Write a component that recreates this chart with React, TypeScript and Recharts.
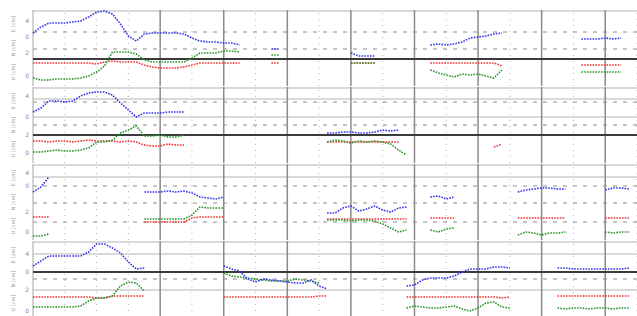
import React from "react";
import { LineChart, Line, XAxis, YAxis, ReferenceLine } from "recharts";

const _ = null;

// sample times in hours since start (3 h spacing)
const hours = [
  0, 3, 6, 9, 12, 15, 18, 21, 24, 27,
  30, 33, 36, 39, 42, 45, 48, 51, 54, 57,
  60, 63, 66, 69, 72, 75, 78, 81, 84, 87,
  90, 93, 96, 99, 102, 105, 108, 111, 114, 117,
  120, 123, 126, 129, 132, 135, 138, 141, 144, 147,
  150, 153, 156, 159, 162, 165, 168, 171, 174, 177,
  180, 183, 186, 189, 192, 195, 198, 201, 204, 207,
  210, 213, 216, 219, 222, 225,
];

// panel 1
const p1Blue = [
  53, 59, 63, 63, 63, 64, 65, 69, 74, 75,
  72, 62, 50, 45, 52, 53, 53, 53, 53, 52,
  48, 45, 44, 44, 43, 43, 41, _, _, _,
  37, 37, _, _, _, _, _, _, _, _,
  33, 30, 30, 30, _, _, _, _, _, _,
  41, 42, 41, 42, 44, 48, 49, 50, 52, 53,
  _, _, _, _, _, _, _, _, _, 47,
  47, 47, 48, 47, 48, _,
];
const p1Green = [
  8, 6, 6, 7, 7, 7, 8, 10, 14, 20,
  34, 34, 34, 32, 26, 24, 24, 24, 24, 24,
  28, 33, 33, 33, 35, 35, 34, _, _, _,
  31, 31, _, _, _, _, _, _, _, _,
  23, 23, 23, 23, _, _, _, _, _, _,
  16, 13, 11, 9, 12, 11, 12, 10, 8, 16,
  _, _, _, _, _, _, _, _, _, 14,
  14, 14, 14, 14, 14, _,
];
const p1Red = [
  23, 23, 23, 23, 23, 23, 23, 23, 22, 24,
  25, 24, 24, 24, 21, 19, 18, 18, 18, 19,
  21, 23, 23, 23, 23, 23, 23, _, _, _,
  23, 23, _, _, _, _, _, _, _, _,
  23, 23, 23, 23, _, _, _, _, _, _,
  23, 23, 23, 23, 23, 23, 23, 23, 23, 20,
  _, _, _, _, _, _, _, _, _, 21,
  21, 21, 21, 21, 21, _,
];

// panel 2
const p2Blue = [
  51, 55, 62, 62, 61, 62, 67, 70, 71, 71,
  68, 60, 53, 46, 50, 50, 50, 51, 51, 51,
  _, _, _, _, _, _, _, _, _, _,
  _, _, _, _, _, _, _, 30, 30, 31,
  31, 30, 30, 31, 33, 32, 33, _, _, _,
  _, _, _, _, _, _, _, _, _, _,
  _, _, _, _, _, _, _, _, _, _,
  _, _, _, _, _, _,
];
const p2Green = [
  11, 11, 12, 13, 12, 12, 13, 15, 21, 21,
  23, 30, 33, 37, 27, 27, 28, 26, 26, 28,
  _, _, _, _, _, _, _, _, _, _,
  _, _, _, _, _, _, _, 21, 23, 22,
  20, 22, 21, 22, 21, 19, 13, 8, _, _,
  _, _, _, _, _, _, _, _, _, _,
  _, _, _, _, _, _, _, _, _, _,
  _, _, _, _, _, _,
];
const p2Red = [
  22, 22, 21, 22, 22, 21, 22, 23, 22, 22,
  22, 21, 22, 21, 18, 17, 17, 19, 18, 18,
  _, _, _, _, _, _, _, _, _, _,
  _, _, _, _, _, _, _, 21, 21, 21,
  21, 21, 21, 21, 21, 21, 21, _, _, _,
  _, _, _, _, _, _, _, _, 16, 19,
  _, _, _, _, _, _, _, _, _, _,
  _, _, _, _, _, _,
];

// panel 3
const p3Blue = [
  48, 53, 63, _, _, _, _, _, _, _,
  _, _, _, _, 48, 48, 48, 49, 48, 49,
  47, 43, 42, 41, 43, _, _, _, _, _,
  _, _, _, _, _, _, _, 27, 27, 32,
  34, 29, 31, 34, 30, 28, 32, 33, _, _,
  43, 44, 41, 43, _, _, _, _, _, _,
  _, 48, 50, 51, 52, 52, 51, 51, _, _,
  _, _, 50, 52, 52, 51,
];
const p3Green = [
  4, 4, 6, _, _, _, _, _, _, _,
  _, _, _, _, 21, 21, 21, 21, 21, 21,
  25, 33, 32, 32, 32, _, _, _, _, _,
  _, _, _, _, _, _, _, 20, 20, 20,
  19, 20, 20, 19, 16, 12, 8, 10, _, _,
  10, 8, 11, 12, _, _, _, _, _, _,
  _, 5, 8, 7, 5, 7, 7, 8, _, _,
  _, _, 8, 7, 8, 8,
];
const p3Red = [
  23, 23, 23, _, _, _, _, _, _, _,
  _, _, _, _, 18, 18, 18, 18, 18, 18,
  22, 23, 23, 23, 23, _, _, _, _, _,
  _, _, _, _, _, _, _, 21, 21, 21,
  21, 21, 21, 21, 21, 21, 21, 21, _, _,
  22, 22, 22, 22, _, _, _, _, _, _,
  _, 22, 22, 22, 22, 22, 22, 22, _, _,
  _, _, 22, 22, 22, 22,
];

// panel 4
const p4Blue = [
  51, 56, 61, 61, 61, 61, 61, 65, 73, 73,
  69, 64, 55, 48, 49, _, _, _, _, _,
  _, _, _, _, 51, 48, 46, 38, 35, 38,
  37, 36, 35, 34, 34, 37, 31, 28, _, _,
  _, _, _, _, _, _, _, 31, 32, 37,
  39, 39, 39, 41, 45, 48, 48, 48, 50, 50,
  49, _, _, _, _, _, 49, 49, 48, 48,
  48, 48, 48, 48, 48, 49,
];
const p4Green = [
  10, 10, 10, 10, 10, 10, 11, 16, 19, 19,
  21, 31, 35, 34, 26, _, _, _, _, _,
  _, _, _, _, 44, 41, 40, 39, 38, 37,
  36, 36, 36, 38, 37, 36, 34, _, _, _,
  _, _, _, _, _, _, _, 9, 11, 10,
  9, 9, 10, 11, 8, 6, 9, 14, 15, 10,
  9, _, _, _, _, _, 9, 8, 9, 9,
  8, 9, 9, 8, 9, 9,
];
const p4Red = [
  20, 20, 20, 20, 20, 20, 20, 20, 19, 19,
  21, 21, 21, 21, 21, _, _, _, _, _,
  _, _, _, _, 20, 20, 20, 20, 20, 20,
  20, 20, 20, 20, 20, 20, 21, 21, _, _,
  _, _, _, _, _, _, _, 20, 20, 20,
  20, 20, 20, 20, 20, 20, 20, 20, 20, 19,
  20, _, _, _, _, _, 21, 21, 21, 21,
  21, 21, 21, 21, 21, 21,
];

// axis ticks / grid values
const dayLines = [48, 72, 96, 120, 144, 168, 192, 216];
const minorLines = [12, 24, 36, 60, 84, 108, 132, 156, 180, 204, 228];

const p1Ticks = [65, 49, 33, 10];
const p2Ticks = [67, 46, 28, 10];
const p3Ticks = [67, 54, 28, 8];
const p4Ticks = [63, 45, 27, 6];
const tickLabels = ["4", "0", "2", "0"];
const groupLabels = ["E [cm]", "N [cm]", "U [cm]"];
const groupPos = [62, 38, 14];

const p1Heavy = [27];
const p1Solid = [75];
const p1Dashed = [54, 37];
const p2Heavy = [28];
const p2Solid = [75, 64, 46];
const p2Dashed = [61, 38];
const p3Heavy: number[] = [];
const p3Solid = [75, 63];
const p3Dashed = [54, 37, 18];
const p4Heavy = [45];
const p4Solid = [75, 63, 27];
const p4Dashed = [38];

const BLUE = "#3434ee";
const GREEN = "#2a952a";
const RED = "#ee3030";

type PanelProps = {
  blue: (number | null)[];
  green: (number | null)[];
  red: (number | null)[];
  ticks: number[];
  heavy: number[];
  solid: number[];
  dashed: number[];
};

function Panel({ blue, green, red, ticks, heavy, solid, dashed }: PanelProps) {
  const data = hours.map((h, i) => ({ h, b: blue[i], g: green[i], r: red[i] }));
  const allTicks = [...ticks, ...groupPos];

  const renderTick = (props: any) => {
    const { y, payload } = props;
    const ti = ticks.indexOf(payload.value);
    const gi = groupPos.indexOf(payload.value);
    return (
      <g>
        {ti >= 0 && (
          <text x={29} y={y + 2} textAnchor="end" fontSize={6} fill="#8a8a8a">
            {tickLabels[ti]}
          </text>
        )}
        {gi >= 0 && (
          <text
            x={15}
            y={y}
            transform={`rotate(-90 15 ${y})`}
            textAnchor="middle"
            fontSize={5}
            fill="#9a9a9a"
          >
            {groupLabels[gi]}
          </text>
        )}
      </g>
    );
  };

  const lineProps = {
    type: "linear" as const,
    dot: false,
    isAnimationActive: false,
    strokeWidth: 1.6,
    strokeDasharray: "1.6 1.2",
    connectNulls: false,
  };

  return (
    <div style={{ height: 76, marginBottom: 1 }}>
      <LineChart width={637} height={76} data={data} margin={{ top: 0, right: 0, bottom: 0, left: 0 }}>
        <XAxis dataKey="h" type="number" domain={[0, 228]} hide />
        <YAxis
          type="number"
          domain={[0, 76]}
          width={33}
          ticks={allTicks}
          tick={renderTick}
          axisLine={false}
          tickLine={false}
          interval={0}
          allowDataOverflow
        />
        {minorLines.map((x) => (
          <ReferenceLine key={"m" + x} x={x} stroke="#b8b8b8" strokeDasharray="1 5" />
        ))}
        {dashed.map((v) => (
          <ReferenceLine key={"d" + v} y={v} stroke="#8c8c8c" strokeDasharray="4 6" />
        ))}
        {solid.map((v) => (
          <ReferenceLine key={"s" + v} y={v} stroke="#b4b4b4" strokeWidth={1.2} />
        ))}
        <ReferenceLine x={0} stroke="#b4b4b4" strokeWidth={1.2} />
        {dayLines.map((x) => (
          <ReferenceLine key={"v" + x} x={x} stroke="#8a8a8a" strokeWidth={1.5} />
        ))}
        {heavy.map((v) => (
          <ReferenceLine key={"h" + v} y={v} stroke="#3a3a3a" strokeWidth={1.8} />
        ))}
        <Line dataKey="r" stroke={RED} {...lineProps} />
        <Line dataKey="g" stroke={GREEN} {...lineProps} />
        <Line dataKey="b" stroke={BLUE} {...lineProps} />
      </LineChart>
    </div>
  );
}

export default function App() {
  return (
    <div
      style={{
        position: "absolute",
        left: 0,
        top: 0,
        width: 637,
        height: 316,
        overflow: "hidden",
        background: "#fff",
        fontFamily: "DejaVu Sans, sans-serif",
      }}
    >
      <div style={{ height: 10 }} />
      <Panel blue={p1Blue} green={p1Green} red={p1Red} ticks={p1Ticks} heavy={p1Heavy} solid={p1Solid} dashed={p1Dashed} />
      <Panel blue={p2Blue} green={p2Green} red={p2Red} ticks={p2Ticks} heavy={p2Heavy} solid={p2Solid} dashed={p2Dashed} />
      <Panel blue={p3Blue} green={p3Green} red={p3Red} ticks={p3Ticks} heavy={p3Heavy} solid={p3Solid} dashed={p3Dashed} />
      <Panel blue={p4Blue} green={p4Green} red={p4Red} ticks={p4Ticks} heavy={p4Heavy} solid={p4Solid} dashed={p4Dashed} />
    </div>
  );
}
